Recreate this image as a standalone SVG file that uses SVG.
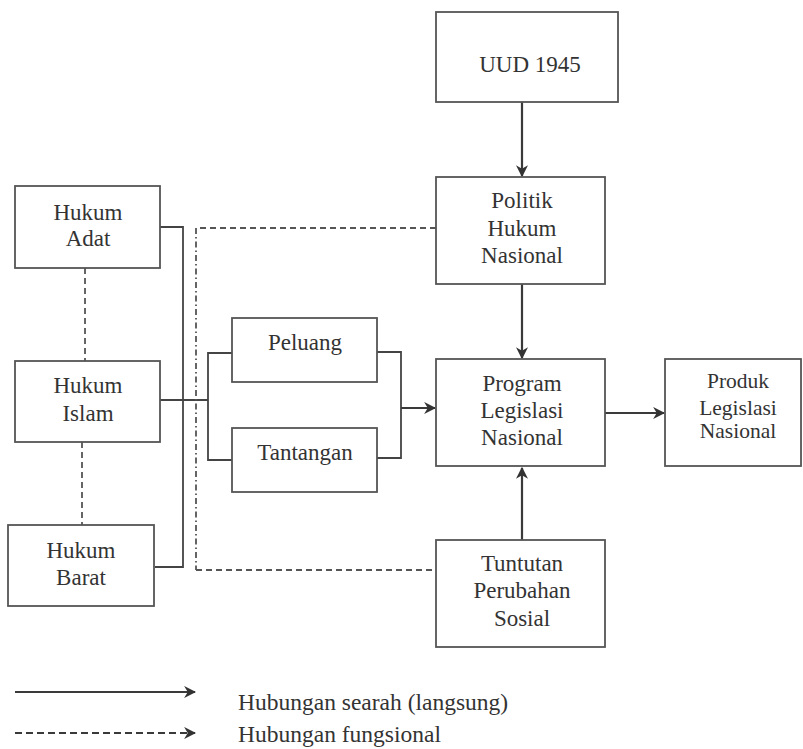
<svg xmlns="http://www.w3.org/2000/svg" width="803" height="749" viewBox="0 0 803 749">
<defs>
<style>
.box{fill:#fff;stroke:#555;stroke-width:1.8}
.ln{fill:none;stroke:#444;stroke-width:1.8}
.ar{fill:none;stroke:#3a3a3a;stroke-width:2.2}
.ds{fill:none;stroke:#555;stroke-width:1.8;stroke-dasharray:6,4}
.dd{fill:none;stroke:#555;stroke-width:1.8;stroke-dasharray:6,3,1.5,3}
</style>
<marker id="ah" viewBox="0 0 10 10" refX="9" refY="5" markerWidth="5.5" markerHeight="5.5" orient="auto" markerUnits="strokeWidth">
<path d="M0,0 L10,5 L0,10 L3,5 z" fill="#333"/>
</marker>
</defs>
<rect width="803" height="749" fill="#fff"/>
<g id="connectors">
<line class="ar" x1="522" y1="102" x2="522" y2="176" marker-end="url(#ah)"/>
<line class="ar" x1="522" y1="284" x2="522" y2="358" marker-end="url(#ah)"/>
<line class="ar" x1="522" y1="540" x2="522" y2="468" marker-end="url(#ah)"/>
<line class="ar" x1="605" y1="413" x2="664" y2="413" marker-end="url(#ah)"/>
<line class="ds" x1="85" y1="268" x2="85" y2="361"/>
<line class="ds" x1="82" y1="442" x2="82" y2="525"/>
<path class="ln" d="M160,227 H183 V567 H155"/>
<path class="ln" d="M160,400 H208"/>
<path class="ln" d="M232,353 H208 V460 H232"/>
<path class="ln" d="M377,352 H401 V458 H377"/>
<line class="ar" x1="401" y1="408" x2="435" y2="408" marker-end="url(#ah)"/>
<path class="ds" d="M436,228 H196"/>
<path class="dd" d="M196,228 V570"/>
<path class="ds" d="M196,570 H436"/>
</g>
<g font-family="Liberation Serif, serif" font-size="23" fill="#333" text-anchor="middle">
<g id="uud"><rect class="box" x="436" y="12" width="182" height="90"/><text x="530" y="72">UUD 1945</text></g>
<g id="politik"><rect class="box" x="436" y="177" width="169" height="107"/><text x="522" y="208">Politik</text><text x="522" y="236">Hukum</text><text x="522" y="263">Nasional</text></g>
<g id="program"><rect class="box" x="436" y="359" width="169" height="107"/><text x="522" y="391">Program</text><text x="522" y="418">Legislasi</text><text x="522" y="445">Nasional</text></g>
<g id="produk"><rect class="box" x="665" y="359" width="136" height="107"/><text x="738" y="388" font-size="21.5">Produk</text><text x="738" y="415" font-size="21.5">Legislasi</text><text x="738" y="438" font-size="21.5">Nasional</text></g>
<g id="tuntutan"><rect class="box" x="436" y="540" width="169" height="107"/><text x="522" y="571">Tuntutan</text><text x="522" y="598">Perubahan</text><text x="522" y="626">Sosial</text></g>
<g id="adat"><rect class="box" x="15" y="186" width="145" height="82"/><text x="88" y="220">Hukum</text><text x="88" y="246">Adat</text></g>
<g id="islam"><rect class="box" x="15" y="361" width="145" height="81"/><text x="88" y="393">Hukum</text><text x="88" y="421">Islam</text></g>
<g id="barat"><rect class="box" x="8" y="525" width="146" height="81"/><text x="81" y="558">Hukum</text><text x="81" y="585">Barat</text></g>
<g id="peluang"><rect class="box" x="232" y="318" width="145" height="64"/><text x="305" y="350">Peluang</text></g>
<g id="tantangan"><rect class="box" x="232" y="428" width="145" height="64"/><text x="305" y="460">Tantangan</text></g>
<g id="legend" font-size="23.5">
<line class="ar" x1="15" y1="692" x2="195" y2="692" marker-end="url(#ah)"/>
<line class="ar" x1="15" y1="733" x2="195" y2="733" stroke-dasharray="7,4" marker-end="url(#ah)"/>
<text x="238" y="710" text-anchor="start">Hubungan searah (langsung)</text>
<text x="238" y="742" text-anchor="start">Hubungan fungsional</text>
</g>
</g>
</svg>
